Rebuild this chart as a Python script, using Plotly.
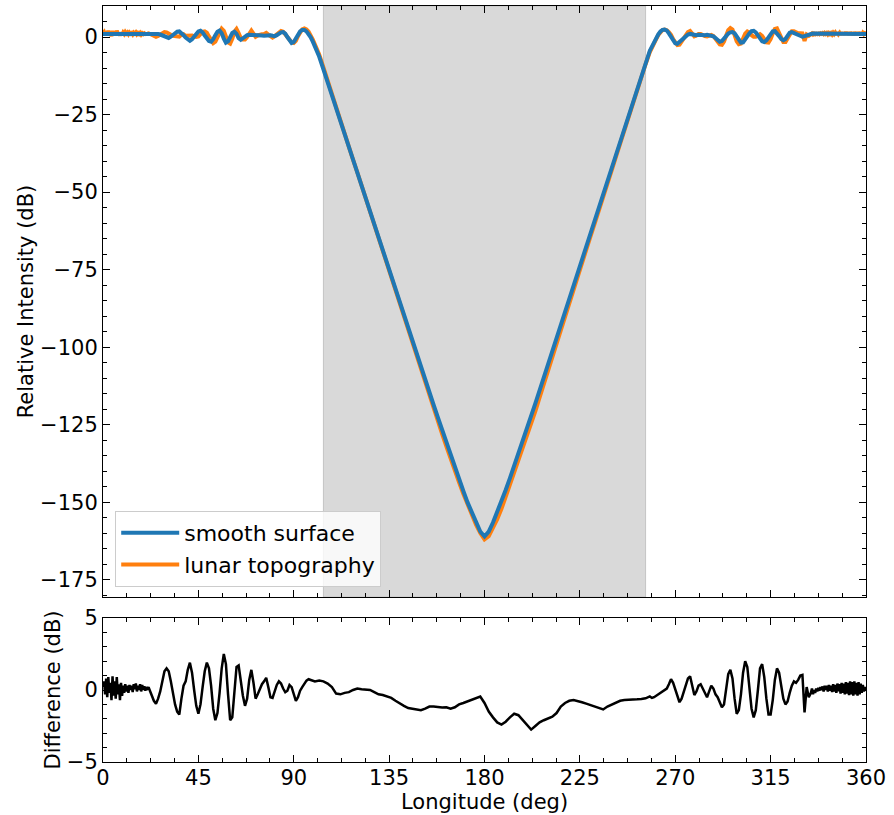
import numpy as np
import plotly.graph_objects as go

# ---------------- data ----------------
# longitude grid, by segments (deg)
lon_A = np.arange(0, 24.01, 0.5)      # 49
lon_B = np.arange(25, 100.01, 1.0)    # 76
lon_C = np.arange(102, 258.01, 2.0)   # 79
lon_D = np.arange(259, 334.01, 1.0)   # 76
lon_E = np.arange(334.5, 360.01, 0.5) # 52

# smooth-surface relative intensity (dB)
smooth_A = [1.0, 1.0, 1.05, 1.05, 1.1, 1.1, 1.05, 1.0, 1.0, 1.0,
            1.05, 1.1, 1.1, 1.15, 1.15, 1.1, 1.1, 1.05, 1.05, 1.1,
            1.15, 1.2, 1.2, 1.15, 1.1, 1.1, 1.05, 1.0, 1.0, 1.0,
            1.05, 1.05, 1.0, 1.0, 0.95, 0.95, 0.9, 0.9, 0.95, 0.95,
            1.0, 1.0, 1.0, 1.0, 1.0, 1.0, 1.0, 1.0, 1.0]
smooth_B = [1.0, 0.95, 0.8, 0.6, 0.3, 0.0, -0.3, 0.1, 0.7, 1.3,
            1.7, 1.8, 1.3, 0.6, -0.2, -0.9, -1.2, -0.7, 0.2, 1.1,
            1.8, 2.0, 1.5, 0.5, -0.5, -1.3, -1.5, -0.7, 0.6, 1.7,
            2.1, 1.2, -0.5, -1.8, -1.4, 0.0, 1.3, 1.7, 1.0, -0.4,
            -0.9, -0.4, 0.3, 0.6, 0.7, 0.7, 0.6, 0.7, 0.8, 0.7,
            0.5, 0.4, 0.5, 0.6, 0.6, 0.4, 0.3, 0.6, 1.1, 1.5,
            1.6, 1.1, 0.0, -1.2, -1.9, -1.6, -0.5, 0.8, 1.8, 2.3,
            2.3, 1.8, 1.0, -0.1, -1.5, -3.0]
smooth_C = [-6.3, -10.4, -14.6, -18.8, -22.9, -27.1, -31.3, -35.4, -39.6, -43.7,
            -47.9, -52.1, -56.2, -60.4, -64.6, -68.7, -72.9, -77.1, -81.2, -85.4,
            -89.5, -93.7, -97.9, -102.0, -106.2, -110.3, -114.5, -118.6, -122.6, -126.7,
            -130.7, -134.7, -138.6, -142.5, -146.3, -150.0, -153.4, -156.6, -159.4, -161.0,
            -159.4, -156.5, -153.2, -149.7, -146.0, -142.2, -138.3, -134.4, -130.5, -126.4,
            -122.3, -118.1, -113.9, -109.7, -105.5, -101.2, -97.0, -92.8, -88.5, -84.3,
            -80.1, -75.9, -71.6, -67.4, -63.2, -58.9, -54.7, -50.5, -46.2, -42.0,
            -37.8, -33.5, -29.3, -25.1, -20.9, -16.6, -12.4, -8.2, -4.4]
smooth_D = [-3.1, -1.6, -0.3, 0.9, 1.8, 2.3, 2.4, 2.1, 1.2, 0.0,
            -1.2, -2.0, -2.2, -1.6, -0.8, -0.2, 0.4, 0.8, 1.0, 0.8,
            0.6, 0.6, 0.7, 0.6, 0.5, 0.6, 0.7, 0.6, 0.4, 0.2,
            -0.3, -1.0, -1.5, -1.3, -0.5, 0.4, 1.1, 1.5, 1.6, 1.2,
            0.3, -0.9, -1.8, -1.7, -0.9, 0.2, 1.2, 1.9, 2.0, 1.5,
            0.5, -0.6, -1.4, -1.6, -1.1, -0.1, 1.0, 1.8, 1.9, 1.3,
            0.3, -0.6, -1.0, -0.6, 0.5, 1.4, 1.6, 1.3, 0.9, 0.5,
            0.2, 0.1, 0.3, 0.6, 0.9, 1.0]
smooth_E = [1.05, 1.1, 1.1, 1.05, 1.0, 1.0, 0.95, 0.95, 1.0, 1.0,
            1.0, 1.05, 1.05, 1.0, 1.0, 0.95, 0.95, 1.0, 1.0, 1.0,
            1.0, 1.05, 1.05, 1.0, 1.0, 1.0, 0.95, 0.95, 1.0, 1.0,
            1.0, 1.0, 1.05, 1.05, 1.0, 1.0, 1.0, 1.0, 0.95, 0.95,
            1.0, 1.0, 1.0, 1.05, 1.05, 1.0, 1.0, 1.0, 1.0, 1.0,
            1.0, 1.0]

# difference, lunar topography minus smooth surface (dB)
diff_A = [0.2, 0.6, -0.3, 0.8, -0.5, 0.9, -0.2, 0.5, -0.7, 0.95,
          -0.4, 0.6, -0.6, 0.9, -0.3, 0.4, -0.7, 0.5, -0.4, 0.3,
          -0.2, 0.4, -0.1, 0.3, -0.2, 0.35, 0.0, 0.3, -0.15, 0.4,
          0.05, 0.45, -0.1, 0.3, 0.0, 0.4, -0.1, 0.35, 0.0, 0.25,
          -0.05, 0.2, 0.1, 0.2, 0.0, -0.2, -0.4, -0.6, -0.75]
diff_B = [-0.95, -0.6, -0.1, 0.6, 1.3, 1.5, 1.3, 0.6, -0.3, -1.0,
          -1.5, -1.7, -0.6, 0.3, 0.6, 1.4, 1.9, 1.2, 0.0, -1.1,
          -1.65, -1.0, 0.2, 1.3, 1.9, 1.5, 0.3, -1.3, -2.1, -1.6,
          -0.2, 1.5, 2.5, 1.8, -0.3, -2.1, -1.9, 0.0, 1.6, 1.7,
          0.6, -0.4, -1.1, -0.6, 0.7, 1.4, 0.5, -0.6, -0.3, 0.1,
          0.4, 0.6, 0.85, 0.2, -0.5, -0.55, 0.0, 0.35, 0.6, 0.45,
          0.1, -0.15, -0.05, 0.35, 0.2, -0.3, -0.75, -0.5, -0.05, 0.2,
          0.45, 0.65, 0.75, 0.7, 0.65, 0.6]
diff_C = [0.65, 0.6, 0.45, 0.2, -0.25, -0.3, -0.2, -0.15, 0.0, 0.1,
          0.05, 0.05, 0.0, -0.15, -0.3, -0.35, -0.45, -0.55, -0.75, -0.95,
          -1.1, -1.25, -1.3, -1.35, -1.4, -1.3, -1.15, -1.15, -1.2, -1.22,
          -1.2, -1.3, -1.2, -1.0, -0.9, -0.8, -0.7, -0.6, -0.45, -0.9,
          -1.5, -1.9, -2.25, -2.4, -2.2, -1.9, -1.65, -1.75, -2.1, -2.45,
          -2.75, -2.5, -2.25, -2.1, -1.95, -1.85, -1.6, -1.15, -0.9, -0.75,
          -0.7, -0.75, -0.85, -0.95, -1.05, -1.15, -1.3, -1.35, -1.15, -1.0,
          -0.85, -0.75, -0.7, -0.7, -0.65, -0.65, -0.62, -0.58, -0.45]
diff_D = [-0.55, -0.5, -0.4, -0.25, -0.15, -0.05, 0.0, 0.1, 0.4, 0.75,
          0.5, 0.1, -0.4, -0.85, -0.6, -0.1, 0.4, 0.8, 0.95, 0.3,
          -0.35, -0.1, 0.3, 0.4, 0.1, -0.3, -0.5, -0.1, 0.3, 0.1,
          -0.3, -0.5, -0.9, -1.2, -1.0, 0.0, 1.1, 1.4, 0.8, -0.6,
          -1.65, -1.4, -0.3, 1.2, 2.0, 1.6, 0.2, -1.3, -1.9, -1.4,
          0.0, 1.5, 1.8, 0.9, -0.6, -1.7, -1.7, -0.7, 0.7, 1.5,
          1.2, 0.2, -0.6, -1.0, -0.8, -0.2, 0.3, 0.6, 0.5, 0.7,
          1.0, 1.05, -1.55, 0.2, -0.5, -0.2]
diff_E = [0.1, -0.3, 0.0, -0.2, 0.1, -0.1, 0.15, -0.05, 0.2, 0.0,
          0.25, -0.1, 0.3, 0.0, 0.3, -0.1, 0.35, -0.05, 0.3, -0.15,
          0.4, -0.1, 0.35, -0.2, 0.45, -0.1, 0.4, -0.25, 0.5, -0.2,
          0.45, -0.3, 0.55, -0.25, 0.5, -0.35, 0.6, -0.3, 0.55, -0.4,
          0.6, -0.3, 0.5, -0.4, 0.55, -0.3, 0.45, -0.2, 0.35, -0.1,
          0.2, 0.0]

shade_lon = [104, 256]   # shaded longitude band (deg)

# ---------------- assemble ----------------
lon = np.concatenate([lon_A, lon_B, lon_C, lon_D, lon_E])
smooth = np.array(smooth_A + smooth_B + smooth_C + smooth_D + smooth_E)
diff = np.array(diff_A + diff_B + diff_C + diff_D + diff_E)
assert len(lon) == len(smooth) == len(diff), (len(lon), len(smooth), len(diff))
lunar = smooth + diff

FONT = "DejaVu Sans"
TICK_SIZE = 21
TITLE_SIZE = 21

fig = go.Figure()
fig.add_trace(go.Scatter(x=lon, y=lunar, mode="lines", name="lunar topography",
                         line=dict(color="#ff7f0e", width=4), legendrank=2,
                         xaxis="x", yaxis="y"))
fig.add_trace(go.Scatter(x=lon, y=smooth, mode="lines", name="smooth surface",
                         line=dict(color="#1f77b4", width=4), legendrank=1,
                         xaxis="x", yaxis="y"))
fig.add_trace(go.Scatter(x=lon, y=diff, mode="lines", showlegend=False,
                         line=dict(color="black", width=2.5),
                         xaxis="x2", yaxis="y2"))

fig.add_shape(type="rect", xref="x", yref="y domain", x0=shade_lon[0], x1=shade_lon[1],
              y0=0, y1=1, fillcolor="#d9d9d9", line=dict(color="#c4c4c4", width=1),
              layer="below")

H_TOP0 = (762 - 597) / 756
H_BOT1 = (762 - 618) / 756

fig.update_layout(
    width=894, height=815,
    margin=dict(l=103, r=28, t=6, b=53, autoexpand=False),
    paper_bgcolor="white", plot_bgcolor="white",
    font=dict(family=FONT, size=TICK_SIZE, color="black"),
    xaxis=dict(domain=[0, 1], range=[0, 360], tick0=0, dtick=45,
               showticklabels=False, anchor="y",
               minor=dict(dtick=11.25)),
    yaxis=dict(domain=[H_TOP0, 1], range=[-180.5, 10], tick0=0, dtick=25,
               anchor="x",
               title=dict(text="Relative Intensity (dB)", standoff=0),
               minor=dict(dtick=5)),
    xaxis2=dict(domain=[0, 1], range=[0, 360], tick0=0, dtick=45, anchor="y2",
                minor=dict(dtick=11.25)),
    yaxis2=dict(domain=[0, H_BOT1], range=[-5, 5], tick0=0, dtick=5, anchor="x2",
                title=dict(text="Difference (dB)", standoff=0),
                minor=dict(dtick=1)),
    legend=dict(x=0.016, y=0.2315, xanchor="left", yanchor="bottom",
                bgcolor="rgba(255,255,255,0.8)", bordercolor="#cccccc", borderwidth=1,
                font=dict(family=FONT, size=22, color="black"),
                itemwidth=58, tracegroupgap=2),
    showlegend=True,
)

# x-axis title of the lower panel, placed just under the tick labels
fig.add_annotation(text="Longitude (deg)", xref="paper", yref="paper",
                   x=0.5, y=-(815 - 762) / 756, xanchor="center", yanchor="bottom",
                   borderpad=0, showarrow=False,
                   font=dict(family=FONT, size=TITLE_SIZE, color="black"))

axis_style = dict(showline=True, linecolor="black", linewidth=1, mirror="allticks",
                  ticks="inside", ticklen=7, tickwidth=1, tickcolor="black",
                  showgrid=False, zeroline=False, automargin=False,
                  tickfont=dict(family=FONT, size=TICK_SIZE, color="black"),
                  title_font=dict(family=FONT, size=TITLE_SIZE, color="black"),
                  minor_ticks="inside", minor_ticklen=4, minor_tickcolor="black",
                  minor_showgrid=False)
fig.update_xaxes(**axis_style)
fig.update_yaxes(**axis_style)

# pull the lower x tick labels up a little toward the axis
try:
    fig.update_layout(xaxis2_ticklabelstandoff=-3)
except Exception:
    pass

fig.write_html("out.html")
